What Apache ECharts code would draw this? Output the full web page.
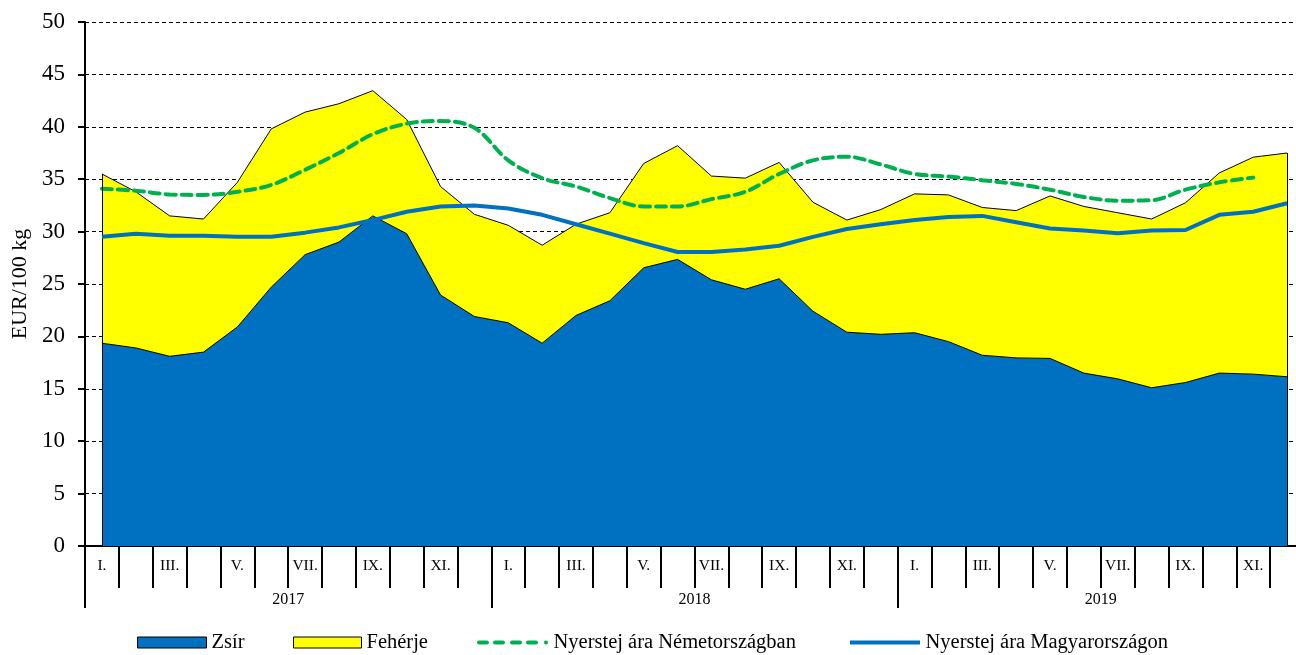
<!DOCTYPE html>
<html>
<head>
<meta charset="utf-8">
<script src="https://cdn.jsdelivr.net/npm/echarts@6/dist/echarts.min.js"></script>
<style>
html,body{margin:0;padding:0;background:#fff;}
#chart{width:1296px;height:655px;}
</style>
</head>
<body>
<div id="chart"></div>
<script>
// categories: months 2017-01 .. 2019-12
const months = [
  '2017-01','2017-02','2017-03','2017-04','2017-05','2017-06','2017-07','2017-08','2017-09','2017-10','2017-11','2017-12',
  '2018-01','2018-02','2018-03','2018-04','2018-05','2018-06','2018-07','2018-08','2018-09','2018-10','2018-11','2018-12',
  '2019-01','2019-02','2019-03','2019-04','2019-05','2019-06','2019-07','2019-08','2019-09','2019-10','2019-11','2019-12'
];
const monthLabels = ['I.','','III.','','V.','','VII.','','IX.','','XI.',''];
const years = ['2017','2018','2019'];

// Zsír (fat component), EUR/100 kg
const zsir = [
  19.35,18.9,18.1,18.5,20.9,24.7,27.8,29.0,31.5,29.8,23.95,21.9,
  21.3,19.35,22.0,23.4,26.55,27.35,25.4,24.5,25.5,22.4,20.4,20.2,
  20.35,19.5,18.2,17.95,17.9,16.5,15.95,15.1,15.6,16.5,16.4,16.15
];
// Fehérje (protein component), EUR/100 kg
const feherje = [
  16.15,14.9,13.4,12.7,13.8,15.1,13.6,13.2,11.95,10.9,10.35,9.75,
  9.3,9.35,8.7,8.4,9.95,10.85,9.9,10.6,11.1,10.4,10.7,11.9,
  13.25,14.0,14.1,14.05,15.5,15.9,15.85,16.1,17.15,19.1,20.7,21.35
];
// Nyerstej ára Németországban
const nemet = [
  34.1,33.9,33.55,33.5,33.8,34.45,35.9,37.5,39.3,40.3,40.55,39.9,
  36.8,35.1,34.3,33.2,32.4,32.4,33.1,33.8,35.5,36.8,37.15,36.4,
  35.5,35.25,34.9,34.55,34.0,33.3,32.95,33.0,34.0,34.7,35.15,null
];
// Nyerstej ára Magyarországon
const magyar = [
  29.5,29.8,29.6,29.6,29.5,29.5,29.9,30.4,31.1,31.9,32.4,32.5,
  32.2,31.6,30.7,29.8,28.9,28.05,28.05,28.3,28.65,29.5,30.25,30.7,
  31.1,31.4,31.5,30.9,30.3,30.1,29.85,30.1,30.15,31.6,31.9,32.7
];
const yTicks = {min:0, max:50, interval:5};

const FONT = '"Liberation Serif","DejaVu Serif",serif';
const last = months.length - 1;
const edgeLines = [
  [{coord:[0,0]},{coord:[0, zsir[0]+feherje[0]]}],
  [{coord:[last,0]},{coord:[last, zsir[last]+feherje[last]]}]
];
const legendText = {fontFamily:FONT, fontSize:20.5, color:'#000'};
const dashIcon = 'path://M2,0h8a2,2 0 0 1 0,4h-8a2,2 0 0 1 0,-4z M18,0h8a2,2 0 0 1 0,4h-8a2,2 0 0 1 0,-4z M35,0h8a2,2 0 0 1 0,4h-8a2,2 0 0 1 0,-4z M51,0h8a2,2 0 0 1 0,4h-8a2,2 0 0 1 0,-4z M69,0a2,2 0 0 1 0,4a2,2 0 0 1 0,-4z';
const solidIcon = 'path://M0,0h70v4h-70z';

const chart = echarts.init(document.getElementById('chart'), null, {renderer:'canvas'});
chart.setOption({
  animation:false,
  textStyle:{fontFamily:FONT, color:'#000'},
  grid:{left:85, top:22, right:-8, bottom:109, outerBoundsMode:'none', containLabel:false},
  legend:[
    {left:137, top:632, padding:0, itemWidth:69, itemHeight:11, textStyle:legendText,
     data:[{name:'Zsír', icon:'rect', itemStyle:{color:'#0070C0', borderColor:'#000', borderWidth:1}}]},
    {left:293, top:632, padding:0, itemWidth:68, itemHeight:11, textStyle:legendText,
     data:[{name:'Fehérje', icon:'rect', itemStyle:{color:'#FFFF00', borderColor:'#000', borderWidth:1}}]},
    {left:477, top:632, padding:0, itemWidth:72, itemHeight:4, textStyle:legendText,
     data:[{name:'Nyerstej ára Németországban', icon:dashIcon, itemStyle:{color:'#00B050', borderWidth:0}}]},
    {left:850, top:632, padding:0, itemWidth:71, itemHeight:4, textStyle:legendText,
     data:[{name:'Nyerstej ára Magyarországon', icon:solidIcon, itemStyle:{color:'#0070C0', borderWidth:0}}]}
  ],
  xAxis:[
    {type:'category', data:months, boundaryGap:true, position:'bottom',
     axisLine:{show:true, lineStyle:{color:'#000', width:2}},
     axisTick:{show:true, interval:0, length:42, lineStyle:{color:'#000', width:2}},
     axisLabel:{interval:0, margin:12, fontSize:15.5, fontFamily:FONT, color:'#000',
       formatter:(v,i)=>monthLabels[i%12]},
     splitLine:{show:false}},
    {type:'category', data:years, boundaryGap:true, position:'bottom', offset:0,
     axisLine:{show:false},
     axisTick:{show:true, interval:0, length:62, lineStyle:{color:'#000', width:2}},
     axisLabel:{interval:0, margin:46, fontSize:16, fontFamily:FONT, color:'#000'},
     splitLine:{show:false}}
  ],
  yAxis:{type:'value', min:yTicks.min, max:yTicks.max, interval:yTicks.interval,
    name:'EUR/100 kg', nameLocation:'middle', nameGap:51, nameRotate:90,
    nameTextStyle:{fontFamily:FONT, fontSize:22, color:'#000'},
    axisLine:{show:true, lineStyle:{color:'#000', width:2}},
    axisTick:{show:true, length:7, lineStyle:{color:'#000', width:2}},
    axisLabel:{fontSize:23, fontFamily:FONT, color:'#000', margin:20},
    splitLine:{show:true, lineStyle:{color:'#000', width:1, type:[4,3]}}},
  series:[
    {name:'Zsír', type:'line', stack:'total', data:zsir, symbol:'none',
     itemStyle:{color:'#0070C0'},
     lineStyle:{color:'#000', width:1}, areaStyle:{color:'#0070C0', opacity:1}, z:2},
    {name:'Fehérje', type:'line', stack:'total', data:feherje, symbol:'none',
     itemStyle:{color:'#FFFF00'},
     lineStyle:{color:'#000', width:1}, areaStyle:{color:'#FFFF00', opacity:1}, z:2,
     markLine:{silent:true, symbol:'none', label:{show:false},
       lineStyle:{color:'#000', width:1, type:'solid'}, data:edgeLines}},
    {name:'Nyerstej ára Németországban', type:'line', data:nemet, symbol:'none', smooth:0.35,
     itemStyle:{color:'#00B050'},
     lineStyle:{color:'#00B050', width:4, type:[10,6], cap:'round'}, z:4},
    {name:'Nyerstej ára Magyarországon', type:'line', data:magyar, symbol:'none',
     itemStyle:{color:'#0070C0'},
     lineStyle:{color:'#0070C0', width:4}, z:5}
  ]
});
</script>
</body>
</html>
